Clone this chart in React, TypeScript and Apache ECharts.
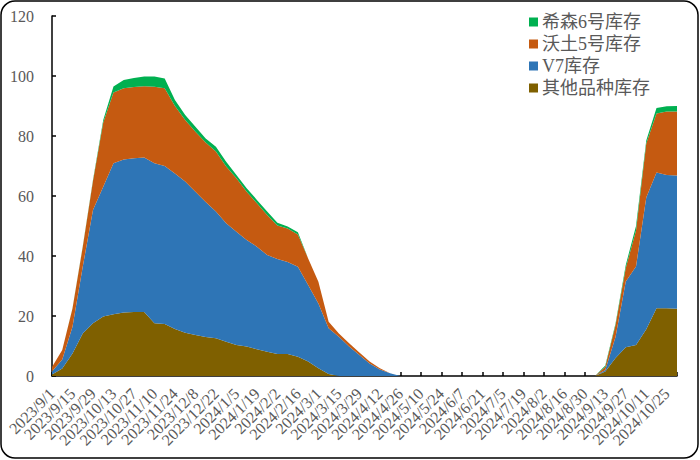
import React, { useEffect, useRef } from "react";
import * as echarts from "echarts";

const dates = [
  "2023/9/1", "2023/9/8", "2023/9/15", "2023/9/22", "2023/9/29", "2023/10/6", "2023/10/13", "2023/10/20",
  "2023/10/27", "2023/11/3", "2023/11/10", "2023/11/17", "2023/11/24", "2023/12/1", "2023/12/8", "2023/12/15",
  "2023/12/22", "2023/12/29", "2024/1/5", "2024/1/12", "2024/1/19", "2024/1/26", "2024/2/2", "2024/2/9",
  "2024/2/16", "2024/2/23", "2024/3/1", "2024/3/8", "2024/3/15", "2024/3/22", "2024/3/29", "2024/4/5",
  "2024/4/12", "2024/4/19", "2024/4/26", "2024/5/3", "2024/5/10", "2024/5/17", "2024/5/24", "2024/5/31",
  "2024/6/7", "2024/6/14", "2024/6/21", "2024/6/28", "2024/7/5", "2024/7/12", "2024/7/19", "2024/7/26",
  "2024/8/2", "2024/8/9", "2024/8/16", "2024/8/23", "2024/8/30", "2024/9/6", "2024/9/13", "2024/9/20",
  "2024/9/27", "2024/10/4", "2024/10/11", "2024/10/18", "2024/10/25", "2024/11/1",
];

const otherStock = [
  0.5, 2.5, 7.5, 14.2, 17.6, 19.8, 20.6, 21.2, 21.3, 21.3, 17.6, 17.3,
  15.7, 14.4, 13.7, 13.0, 12.6, 11.4, 10.3, 9.8, 8.9, 8.1, 7.3, 7.3,
  6.4, 4.8, 2.6, 0.7, 0, 0, 0, 0, 0, 0,
  0, 0, 0, 0, 0, 0, 0, 0, 0, 0, 0, 0, 0, 0, 0, 0, 0, 0, 0, 0,
  1.5, 6.0, 9.6, 10.3, 15.6, 22.6, 22.6, 22.4,
];

const v7Stock = [
  1.0, 3.0, 8.9, 22.2, 37.7, 43.3, 50.3, 51.0, 51.3, 51.5, 53.3, 52.7,
  51.8, 50.4, 47.7, 45.0, 42.2, 39.5, 37.8, 35.5, 34.2, 32.2, 31.7, 30.7,
  30.0, 25.5, 21.6, 15.2, 13.1, 9.8, 7.0, 4.2, 2.2, 0.9,
  0, 0, 0, 0, 0, 0, 0, 0, 0, 0, 0, 0, 0, 0, 0, 0, 0, 0, 0, 0,
  0.5, 7.0, 21.9, 26.2, 43.9, 45.2, 44.4, 44.4,
];

const wotu5Stock = [
  1.5, 3.2, 6.1, 6.6, 9.7, 21.4, 23.6, 23.7, 23.7, 23.8, 25.5, 25.9,
  22.5, 20.5, 20.0, 19.8, 20.0, 18.9, 17.8, 16.1, 14.5, 13.4, 11.2, 11.2,
  10.8, 8.9, 7.2, 2.2, 1.1, 1.1, 0.8, 0.6, 0.4, 0,
  0, 0, 0, 0, 0, 0, 0, 0, 0, 0, 0, 0, 0, 0, 0, 0, 0, 0, 0, 0,
  1.1, 4.0, 4.5, 12.0, 18.0, 19.7, 21.2, 21.4,
];

const xisen6Stock = [
  0, 0, 0.1, 0.2, 0.3, 0.8, 2.0, 2.8, 3.0, 3.2, 3.4, 3.3,
  2.0, 1.7, 1.7, 1.4, 1.6, 1.6, 1.1, 1.2, 1.1, 1.1, 0.9, 0.6,
  0.7, 0, 0, 0, 0, 0, 0, 0, 0, 0,
  0, 0, 0, 0, 0, 0, 0, 0, 0, 0, 0, 0, 0, 0, 0, 0, 0, 0, 0, 0,
  0.4, 0.5, 1.0, 1.5, 1.0, 1.8, 1.7, 1.8,
];

const seriesNames = ["其他品种库存", "V7库存", "沃土5号库存", "希森6号库存"];
const legendOrder = ["希森6号库存", "沃土5号库存", "V7库存", "其他品种库存"];
const colors = ["#7F6000", "#2E75B6", "#C55A11", "#00B050"];

const serifFont = "'Times New Roman', 'Liberation Serif', 'Noto Sans CJK SC', serif";

export default function App() {
  const ref = useRef<HTMLDivElement>(null);

  useEffect(() => {
    if (!ref.current) return;
    const chart = echarts.init(ref.current, undefined, { renderer: "svg" });
    const dataSets = [otherStock, v7Stock, wotu5Stock, xisen6Stock];
    chart.setOption({
      animation: false,
      backgroundColor: "#fff",
      graphic: [
        {
          type: "rect",
          shape: { x: 1, y: 1, width: 697, height: 457, r: 14 },
          style: { fill: "none", stroke: "#000", lineWidth: 1.5 },
          silent: true,
          z: 100,
        },
      ],
      legend: {
        data: legendOrder,
        orient: "vertical",
        left: 524,
        top: 8,
        itemWidth: 9,
        itemHeight: 9,
        itemGap: 4,
        icon: "rect",
        textStyle: { fontSize: 18, color: "#595959", fontFamily: serifFont, padding: [0, 0, 0, -1] },
      },
      grid: { left: 52, right: 23, top: 16, bottom: 84, containLabel: false },
      xAxis: {
        type: "category",
        data: dates,
        boundaryGap: false,
        axisLine: { lineStyle: { color: "#000", width: 1.5 } },
        axisTick: { inside: true, interval: 1, length: 4, lineStyle: { color: "#000", width: 1.5 } },
        axisLabel: {
          interval: 0,
          formatter: (value: string, index: number) => (index % 2 === 0 ? value : ""),
          rotate: 45,
          margin: 15,
          fontSize: 16,
          color: "#595959",
          fontFamily: serifFont,
        },
        splitLine: { show: false },
      },
      yAxis: {
        type: "value",
        min: 0,
        max: 120,
        interval: 20,
        axisLine: { show: true, lineStyle: { color: "#000", width: 1.5 } },
        axisTick: { show: true, inside: true, length: 4, lineStyle: { color: "#000", width: 1.5 } },
        axisLabel: { fontSize: 16, color: "#595959", fontFamily: serifFont, margin: 18 },
        splitLine: { show: false },
      },
      series: seriesNames.map((name, k) => ({
        name,
        type: "line",
        stack: "total",
        data: dataSets[k],
        showSymbol: false,
        symbol: "none",
        lineStyle: { width: 0, color: colors[k] },
        itemStyle: { color: colors[k] },
        areaStyle: { color: colors[k], opacity: 1 },
        z: 2,
      })),
    });
    return () => chart.dispose();
  }, []);

  return (
    <div
      ref={ref}
      style={{ position: "fixed", left: 0, top: 0, width: 700, height: 460, background: "#fff" }}
    />
  );
}
